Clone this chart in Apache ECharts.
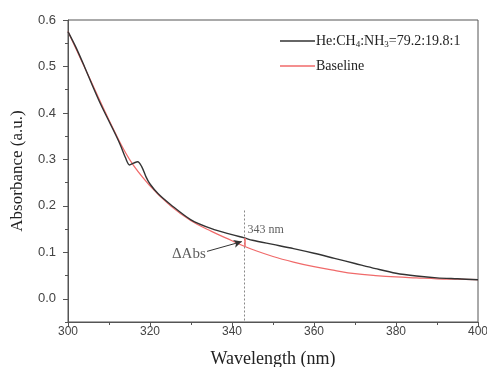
<!DOCTYPE html>
<html>
<head>
<meta charset="utf-8">
<script src="https://cdn.jsdelivr.net/npm/echarts@6/dist/echarts.min.js"></script>
<style>
  html, body { margin: 0; padding: 0; background: #fff; }
  #chart { width: 487px; height: 367px; }
</style>
</head>
<body>
<div id="chart"></div>
<script>
const sampleName = 'He:CH4:NH3=79.2:19.8:1'
const baseName = 'Baseline'

const sampleWl = [300, 302, 304, 306, 308, 310, 312, 313, 314, 315, 316, 317, 318, 319, 320, 322, 325, 330, 335, 340, 343, 345, 350, 355, 360, 365, 370, 375, 380, 385, 390, 395, 400]
const sampleAbs = [0.575, 0.54, 0.50, 0.458, 0.418, 0.382, 0.346, 0.326, 0.304, 0.288, 0.292, 0.295, 0.284, 0.263, 0.247, 0.226, 0.203, 0.17, 0.151, 0.138, 0.131, 0.126, 0.117, 0.108, 0.098, 0.087, 0.076, 0.065, 0.055, 0.049, 0.045, 0.043, 0.041]

const baseWl = [300, 305, 310, 315, 320, 325, 330, 335, 340, 343, 345, 350, 355, 360, 365, 370, 375, 380, 385, 390, 395, 400]
const baseAbs = [0.575, 0.48, 0.385, 0.30, 0.243, 0.20, 0.168, 0.145, 0.125, 0.113, 0.106, 0.091, 0.079, 0.069, 0.061, 0.054, 0.050, 0.047, 0.045, 0.043, 0.042, 0.041]

const xTicks = [300, 320, 340, 360, 380, 400]
const yTicks = [0, 0.1, 0.2, 0.3, 0.4, 0.5, 0.6]

const markWl = 343
const markTop = 0.19
const deltaTop = 0.131
const deltaBottom = 0.113
const arrowFrom = [333.9, 0.102]
const arrowTo = [342.4, 0.123]
const notes = [
  { value: [343.8, 0.149], text: '343 nm', pos: 'right', size: 12 },
  { value: [333.6, 0.097], text: 'ΔAbs', pos: 'left', size: 15 },
]

const serif = '"Liberation Serif", "DejaVu Serif", serif'
const sans = '"Liberation Sans", Arial, sans-serif'

const chart = echarts.init(document.getElementById('chart'))

chart.setOption({
  animation: false,
  grid: { left: 68, right: 9, top: 20, bottom: 45, outerBoundsMode: 'none', show: true, borderColor: '#555', borderWidth: 1, backgroundColor: 'transparent' },
  legend: {
    data: [sampleName, baseName],
    orient: 'vertical',
    left: 275,
    top: 29,
    itemWidth: 35,
    itemHeight: 1.5,
    itemGap: 10,
    icon: 'rect',
    formatter: name => name.replace('CH4', 'CH{sub|4}').replace('NH3', 'NH{sub|3}'),
    textStyle: {
      fontFamily: serif,
      fontSize: 14,
      color: '#222',
      padding: [0, 0, 0, -4],
      rich: { sub: { fontFamily: serif, fontSize: 9, color: '#222', padding: [7, 0, 0, 0] } },
    },
  },
  xAxis: {
    type: 'value',
    min: 300,
    max: 400,
    interval: 20,
    name: 'Wavelength (nm)',
    nameLocation: 'middle',
    nameGap: 28,
    nameTextStyle: { fontFamily: serif, fontSize: 18, color: '#222' },
    axisLine: { onZero: false, lineStyle: { color: '#555', width: 1 } },
    axisTick: { length: 5, lineStyle: { color: '#555' } },
    minorTick: { show: true, splitNumber: 2, length: 3, lineStyle: { color: '#555' } },
    axisLabel: { color: '#444', fontFamily: sans, fontSize: 12, margin: 4, customValues: xTicks },
    splitLine: { show: false },
  },
  yAxis: [
    {
      type: 'value',
      min: -0.05,
      max: 0.6,
      interval: 0.05,
      name: 'Absorbance (a.u.)',
      nameLocation: 'middle',
      nameGap: 42,
      nameTextStyle: { fontFamily: serif, fontSize: 17, color: '#222' },
      axisLine: { show: true, lineStyle: { color: '#555', width: 1 } },
      axisTick: { length: 5, lineStyle: { color: '#555' }, customValues: yTicks },
      axisLabel: { color: '#444', fontFamily: sans, fontSize: 13, margin: 12, customValues: yTicks, formatter: v => v.toFixed(1) },
      splitLine: { show: false },
    },
    {
      type: 'value',
      position: 'left',
      min: -0.05,
      max: 0.6,
      interval: 0.05,
      axisLine: { show: false },
      axisTick: { show: true, length: 3, lineStyle: { color: '#555' } },
      axisLabel: { show: false },
      splitLine: { show: false },
    },
  ],
  series: [
    {
      name: baseName,
      type: 'line',
      data: baseWl.map((w, i) => [w, baseAbs[i]]),
      smooth: 0.4,
      symbol: 'none',
      color: '#f06a6a',
      lineStyle: { width: 1.2, color: '#f06a6a' },
      z: 2,
    },
    {
      name: sampleName,
      type: 'line',
      data: sampleWl.map((w, i) => [w, sampleAbs[i]]),
      smooth: 0.3,
      symbol: 'none',
      color: '#333',
      lineStyle: { width: 1.4, color: '#333' },
      z: 3,
      markLine: {
        silent: true,
        symbol: 'none',
        label: { show: false },
        data: [
          [
            { coord: [markWl, markTop], lineStyle: { color: '#888', type: [2, 2], width: 1 } },
            { coord: [markWl, -0.05] },
          ],
          [
            { coord: [markWl, deltaTop], lineStyle: { color: '#f06a6a', type: 'solid', width: 1.5 } },
            { coord: [markWl, deltaBottom] },
          ],
          [
            { coord: arrowFrom, symbol: 'none', lineStyle: { color: '#333', type: 'solid', width: 1 } },
            { coord: arrowTo, symbol: 'arrow', symbolSize: [6, 8] },
          ],
        ],
      },
    },
    {
      name: 'notes',
      type: 'scatter',
      symbolSize: 0,
      silent: true,
      data: notes.map(n => ({
        value: n.value,
        label: { show: true, position: n.pos, distance: 0, formatter: n.text, fontFamily: serif, fontSize: n.size, color: '#333' },
      })),
      z: 4,
    },
  ],
})
</script>
</body>
</html>
